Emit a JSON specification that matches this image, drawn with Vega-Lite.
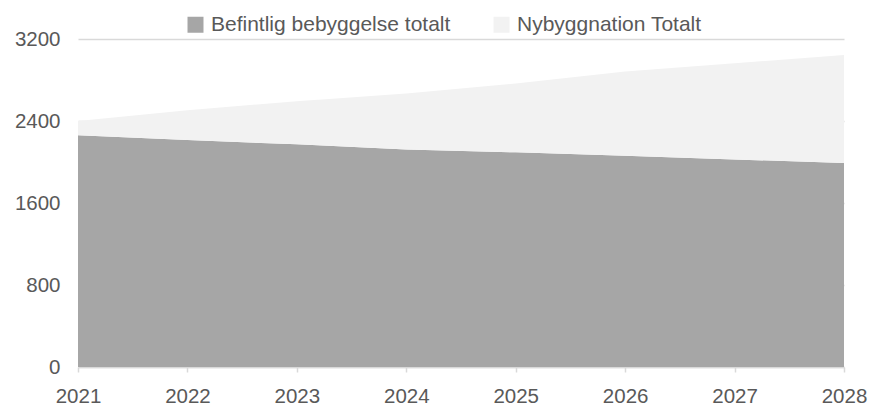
{
  "$schema": "https://vega.github.io/schema/vega-lite/v6.json",
  "autosize": {"type": "none"},
  "width": 766,
  "height": 328,
  "padding": {"left": 78, "top": 39, "right": 34, "bottom": 40},
  "background": "#ffffff",
  "config": {
    "view": {"stroke": null},
    "font": "Liberation Sans",
    "axis": {"labelFont": "Liberation Sans", "labelColor": "#595959", "labelFontSize": 20.5}
  },
  "data": {
    "values": [
      {"year": "2021", "serie": "Befintlig bebyggelse totalt", "ord": 1, "value": 2260},
      {"year": "2022", "serie": "Befintlig bebyggelse totalt", "ord": 1, "value": 2215},
      {"year": "2023", "serie": "Befintlig bebyggelse totalt", "ord": 1, "value": 2172},
      {"year": "2024", "serie": "Befintlig bebyggelse totalt", "ord": 1, "value": 2122},
      {"year": "2025", "serie": "Befintlig bebyggelse totalt", "ord": 1, "value": 2094},
      {"year": "2026", "serie": "Befintlig bebyggelse totalt", "ord": 1, "value": 2060},
      {"year": "2027", "serie": "Befintlig bebyggelse totalt", "ord": 1, "value": 2025},
      {"year": "2028", "serie": "Befintlig bebyggelse totalt", "ord": 1, "value": 1990},
      {"year": "2021", "serie": "Nybyggnation Totalt", "ord": 2, "value": 140},
      {"year": "2022", "serie": "Nybyggnation Totalt", "ord": 2, "value": 290},
      {"year": "2023", "serie": "Nybyggnation Totalt", "ord": 2, "value": 421},
      {"year": "2024", "serie": "Nybyggnation Totalt", "ord": 2, "value": 546},
      {"year": "2025", "serie": "Nybyggnation Totalt", "ord": 2, "value": 672},
      {"year": "2026", "serie": "Nybyggnation Totalt", "ord": 2, "value": 822},
      {"year": "2027", "serie": "Nybyggnation Totalt", "ord": 2, "value": 938},
      {"year": "2028", "serie": "Nybyggnation Totalt", "ord": 2, "value": 1053}
    ]
  },
  "mark": {"type": "area", "interpolate": "linear"},
  "encoding": {
    "x": {
      "field": "year", "type": "ordinal",
      "scale": {"type": "point", "padding": 0},
      "axis": {"title": null, "labelAngle": 0, "domainColor": "#d9d9d9", "domainWidth": 1.5, "tickColor": "#d9d9d9", "tickWidth": 1.5, "tickSize": 5, "labelPadding": 14, "grid": false}
    },
    "y": {
      "field": "value", "type": "quantitative", "stack": "zero",
      "scale": {"domain": [0, 3200], "nice": false},
      "axis": {"title": null, "values": [0, 800, 1600, 2400, 3200], "format": "d", "domain": false, "ticks": false, "labelPadding": 18, "gridColor": "#d9d9d9", "gridWidth": 1.5}
    },
    "color": {
      "field": "serie", "type": "nominal",
      "scale": {"domain": ["Befintlig bebyggelse totalt", "Nybyggnation Totalt"], "range": ["#a6a6a6", "#f2f2f2"]},
      "legend": {"title": null, "orient": "none", "direction": "horizontal", "legendX": 107, "legendY": -25, "padding": 0, "symbolType": "square", "symbolSize": 256, "symbolStrokeWidth": 0, "labelFontSize": 21, "labelColor": "#595959", "labelFont": "Liberation Sans", "labelOffset": 5, "labelLimit": 0, "columnPadding": 40}
    },
    "order": {"field": "ord", "type": "quantitative"}
  }
}
